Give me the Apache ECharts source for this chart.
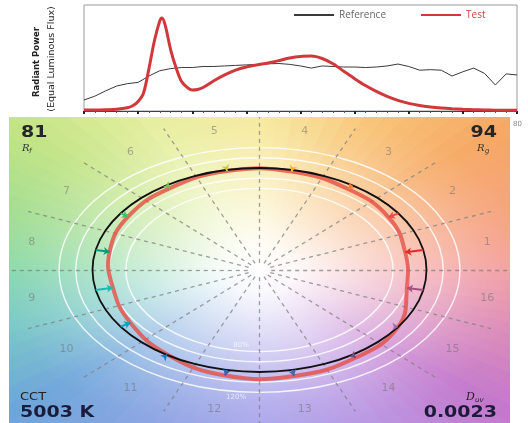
<!DOCTYPE html>
<html><head><meta charset="utf-8">
<script src="https://cdn.jsdelivr.net/npm/echarts@6/dist/echarts.min.js"></script>
<style>html,body{margin:0;padding:0;background:#fff}#c{width:528px;height:423px}</style>
</head><body><div id="c"></div>
<script>
// ---------- Spectrum data ----------
const testWavelengths = [380,390,400,410,420,425,430,435,440,445,450,452,455,460,465,470,475,480,485,490,500,510,520,530,540,550,560,570,580,590,600,610,620,630,640,650,660,670,680,690,700,710,720,730,740,750,760,770,780];
const testPower = [0.01,0.01,0.012,0.016,0.03,0.05,0.09,0.17,0.40,0.66,0.85,0.877,0.81,0.58,0.41,0.28,0.225,0.198,0.203,0.222,0.285,0.34,0.385,0.415,0.435,0.453,0.475,0.5,0.515,0.518,0.495,0.445,0.375,0.305,0.24,0.185,0.138,0.10,0.072,0.052,0.038,0.028,0.021,0.016,0.012,0.01,0.008,0.007,0.006];
const refWavelengths = [380,390,400,410,420,430,440,450,460,470,480,490,500,510,520,530,540,550,560,570,580,590,600,610,620,630,640,650,660,670,680,690,700,710,720,730,740,750,760,770,780];
const refPower = [0.104,0.14,0.19,0.235,0.258,0.27,0.33,0.38,0.40,0.41,0.41,0.42,0.42,0.425,0.43,0.435,0.44,0.445,0.448,0.44,0.425,0.405,0.425,0.42,0.415,0.415,0.41,0.415,0.425,0.443,0.42,0.385,0.39,0.385,0.33,0.37,0.405,0.355,0.245,0.35,0.34];
const seriesNames = ['Reference', 'Test'];

// ---------- Colour vector graphic data ----------
const binNumbers = [1,2,3,4,5,6,7,8,9,10,11,12,13,14,15,16];
const binHueDeg = [11.25,33.75,56.25,78.75,101.25,123.75,146.25,168.75,191.25,213.75,236.25,258.75,281.25,303.75,326.25,348.75];
const testChromaRatio = [0.89,0.93,0.955,0.985,0.99,0.965,0.945,0.915,0.895,0.93,0.995,1.055,1.06,1.035,1.0,0.9];
const binArrowColors = ['#e62828','#e74b4b','#fb812e','#ffb529','#cbca46','#7eb94c','#41c06d','#009c7c','#16bcb0','#00a4bf','#0085c3','#3b62aa','#4568ae','#6a4e85','#9d69a1','#a74f81'];
const bgHueColors = ['#f39a9c','#f5a07a','#f6a864','#f8c272','#f6e896','#e4ee9a','#c2e486','#a0dc8e','#82d6a6','#74c6c4','#6ea6da','#88a2e2','#a6a2ea','#b894e2','#c478cc','#dc88b4'];
const ringRadii = [0.8, 0.9, 1.1, 1.2];
const referenceRadius = [1.0];
const ringLabelText = ['80%', '120%'];
const ringLabelPos = [[-0.11, -0.74], [-0.14, -1.25]];
const Rf = '81', Rg = '94', CCT = '5003 K', Duv = '0.0023';

const deg = Math.PI / 180;
const testPts = binHueDeg.map((h, i) => [testChromaRatio[i] * Math.cos(h * deg), testChromaRatio[i] * Math.sin(h * deg)]);
const refPts = binHueDeg.map(h => [Math.cos(h * deg), Math.sin(h * deg)]);

function hexRgb(h) { return [parseInt(h.slice(1, 3), 16), parseInt(h.slice(3, 5), 16), parseInt(h.slice(5, 7), 16)]; }
function mixColor(a, b, t) {
  const A = hexRgb(a), B = hexRgb(b);
  return 'rgb(' + A.map((v, k) => Math.round(v + (B[k] - v) * t)).join(',') + ')';
}

const chart = echarts.init(document.getElementById('c'));

const lbl = (text, x, y, font, fill, align, extra) => Object.assign({
  type: 'text', x: x, y: y, z: 100,
  style: {text: text, font: font, fill: fill, align: align, verticalAlign: 'middle', textAlign: align, textVerticalAlign: 'middle'}
}, extra || {});

const option = {
  animation: false,
  backgroundColor: '#ffffff',
  grid: [
    {left: 84, top: 5, width: 433, height: 106, show: true, borderColor: '#9a9a9a', borderWidth: 1, backgroundColor: '#fff'},
    {left: 9, top: 117, width: 501, height: 306, show: false}
  ],
  legend: {
    left: 288, top: 5, itemWidth: 40, itemHeight: 8, itemGap: 34,
    itemStyle: {opacity: 0},
    data: [
      {name: 'Reference', textStyle: {color: '#666'}},
      {name: 'Test', textStyle: {color: '#d04040'}}
    ],
    textStyle: {fontSize: 10, fontFamily: 'Open Sans'}
  },
  xAxis: [
    {gridIndex: 0, type: 'value', min: 380, max: 780, interval: 50,
     axisLabel: {show: false}, splitLine: {show: false},
     axisLine: {lineStyle: {color: '#3a4050', width: 1}},
     axisTick: {show: true, length: 3, lineStyle: {color: '#222', width: 2}},
     minorTick: {show: true, splitNumber: 5, length: 2, lineStyle: {color: '#555', width: 1}}},
    {gridIndex: 1, type: 'value', min: -1.5, max: 1.5, show: false}
  ],
  yAxis: [
    {gridIndex: 0, type: 'value', min: 0, max: 1, show: false},
    {gridIndex: 1, type: 'value', min: -1.5, max: 1.5, show: false}
  ],
  series: [
    {type: 'line', name: seriesNames[0], xAxisIndex: 0, yAxisIndex: 0, symbol: 'none', z: 3,
     data: refWavelengths.map((w, i) => [w, refPower[i]]),
     lineStyle: {color: '#3a3a3a', width: 1}, itemStyle: {color: '#3a3a3a'}},
    {type: 'line', name: seriesNames[1], xAxisIndex: 0, yAxisIndex: 0, symbol: 'none', smooth: 0.3, z: 4,
     data: testWavelengths.map((w, i) => [w, testPower[i]]),
     lineStyle: {color: '#d0383c', width: 3}, itemStyle: {color: '#d0383c'}},
    // background hue wedges (each anchor sector split into soft sub-wedges)
    {type: 'custom', xAxisIndex: 1, yAxisIndex: 1, clip: true, silent: true, z: 0,
     data: bgHueColors.map((c, i) => [i]),
     renderItem: function (params, api) {
       const n = bgHueColors.length, i = params.dataIndex, step = 360 / n, R = 2.4, sub = 6;
       const c0 = bgHueColors[i], c1 = bgHueColors[(i + 1) % n];
       const c = api.coord([0, 0]);
       const children = [];
       for (let s = 0; s < sub; s++) {
         const a1 = (i * step + s * step / sub) * deg, a2 = (i * step + (s + 1) * step / sub) * deg;
         const p1 = api.coord([R * Math.cos(a1), R * Math.sin(a1)]);
         const p2 = api.coord([R * Math.cos(a2), R * Math.sin(a2)]);
         const g = new echarts.graphic.LinearGradient(p1[0], p1[1], p2[0], p2[1],
           [{offset: 0, color: mixColor(c0, c1, s / sub)}, {offset: 1, color: mixColor(c0, c1, (s + 1) / sub)}], true);
         children.push({type: 'polygon', shape: {points: [c, p1, p2]}, style: {fill: g, stroke: g, lineWidth: 1}});
       }
       return {type: 'group', children: children};
     }},
    // white glow at centre
    {type: 'custom', xAxisIndex: 1, yAxisIndex: 1, clip: true, silent: true, z: 1,
     data: [[0, 0]],
     renderItem: function (params, api) {
       const c = api.coord([0, 0]);
       const sx = api.size([1, 0])[0], sy = api.size([0, 1])[1];
       return {type: 'circle', x: c[0], y: c[1], scaleY: sy / sx, shape: {cx: 0, cy: 0, r: 1.9 * sx},
         style: {fill: new echarts.graphic.RadialGradient(0.5, 0.5, 0.5, [
           {offset: 0, color: 'rgba(255,255,255,1)'},
           {offset: 0.12, color: 'rgba(255,255,255,0.93)'},
           {offset: 0.3, color: 'rgba(255,255,255,0.68)'},
           {offset: 0.5, color: 'rgba(255,255,255,0.4)'},
           {offset: 0.7, color: 'rgba(255,255,255,0.16)'},
           {offset: 0.85, color: 'rgba(255,255,255,0.04)'},
           {offset: 1, color: 'rgba(255,255,255,0)'}])}};
     }},
    // white rings
    {type: 'custom', xAxisIndex: 1, yAxisIndex: 1, clip: true, silent: true, z: 2,
     data: ringRadii.map(r => [r]),
     renderItem: function (params, api) {
       const r = api.value(0), c = api.coord([0, 0]);
       return {type: 'ellipse', shape: {cx: c[0], cy: c[1], rx: api.size([r, 0])[0], ry: api.size([0, r])[1]},
         style: {fill: null, stroke: 'rgba(255,255,255,0.85)', lineWidth: 1.4}};
     }},
    // dashed bin boundaries
    {type: 'lines', coordinateSystem: 'cartesian2d', xAxisIndex: 1, yAxisIndex: 1, z: 3, silent: true,
     data: binNumbers.map((b, i) => ({coords: [[0.07 * Math.cos(i * 22.5 * deg), 0.07 * Math.sin(i * 22.5 * deg)], [1.5 * Math.cos(i * 22.5 * deg), 1.5 * Math.sin(i * 22.5 * deg)]]})),
     lineStyle: {color: '#808080', width: 1.3, type: [4, 4], opacity: 0.75}},
    // test curve
    {type: 'custom', xAxisIndex: 1, yAxisIndex: 1, clip: true, silent: true, z: 5,
     data: testPts,
     renderItem: function (params, api) {
       if (params.dataIndex !== 0) return null;
       const pts = testPts.map(p => api.coord(p));
       return {type: 'polygon', shape: {points: pts, smooth: 0.45},
         style: {fill: null, stroke: 'rgba(228,80,72,0.82)', lineWidth: 4}};
     }},
    // reference circle
    {type: 'custom', xAxisIndex: 1, yAxisIndex: 1, clip: true, silent: true, z: 6,
     data: referenceRadius.map(r => [r]),
     renderItem: function (params, api) {
       const r = api.value(0), c = api.coord([0, 0]);
       return {type: 'ellipse', shape: {cx: c[0], cy: c[1], rx: api.size([r, 0])[0], ry: api.size([0, r])[1]},
         style: {fill: null, stroke: '#111', lineWidth: 1.8}};
     }},
    // arrows
    {type: 'lines', coordinateSystem: 'cartesian2d', xAxisIndex: 1, yAxisIndex: 1, z: 7, silent: true,
     symbol: ['none', 'arrow'], symbolSize: 6,
     data: binNumbers.map((b, i) => ({coords: [refPts[i], testPts[i]], lineStyle: {color: binArrowColors[i], width: 2, opacity: 1}}))},
    // bin labels
    {type: 'scatter', xAxisIndex: 1, yAxisIndex: 1, symbolSize: 0, z: 8, silent: true,
     data: binNumbers.map((b, i) => [1.39 * Math.cos(binHueDeg[i] * deg), 1.39 * Math.sin(binHueDeg[i] * deg), b]),
     label: {show: true, position: 'inside', formatter: p => String(p.value[2]), color: 'rgba(110,110,110,0.65)', fontSize: 11, fontFamily: 'DejaVu Sans'}},
    // ring labels
    {type: 'scatter', xAxisIndex: 1, yAxisIndex: 1, symbolSize: 0, z: 8, silent: true,
     data: ringLabelPos.map((p, i) => [p[0], p[1], ringLabelText[i]]),
     label: {show: true, position: 'inside', formatter: p => p.value[2], color: 'rgba(255,255,255,0.9)', fontSize: 7, fontFamily: 'DejaVu Sans'}}
  ],
  graphic: [
    lbl('Radiant Power', 37, 62, 'bold 8.5px "DejaVu Sans"', '#222', 'center', {rotation: Math.PI / 2}),
    lbl('(Equal Luminous Flux)', 52, 59, '9.5px "DejaVu Sans"', '#222', 'center', {rotation: Math.PI / 2}),
    lbl(Rf, 21, 133, 'bold 19px "DejaVu Sans"', '#262626', 'left', {scaleY: 0.8}),
    lbl('R', 22, 148, 'italic 10px "DejaVu Serif"', '#333', 'left'),
    lbl('f', 29, 151, 'italic 7px "DejaVu Sans"', '#333', 'left'),
    lbl(Rg, 497, 133, 'bold 19px "DejaVu Sans"', '#262626', 'right', {scaleY: 0.8}),
    lbl('R', 477, 148, 'italic 10px "DejaVu Serif"', '#333', 'left'),
    lbl('g', 485, 151, 'italic 7px "DejaVu Sans"', '#333', 'left'),
    lbl('CCT', 20, 397, '13px "DejaVu Sans"', '#222', 'left', {scaleY: 0.75}),
    lbl(CCT, 20, 413, 'bold 19px "DejaVu Sans"', '#1c1c3a', 'left', {scaleY: 0.8}),
    lbl('D', 466, 397, 'italic 11px "DejaVu Serif"', '#222', 'left'),
    lbl('uv', 475, 400, 'italic 7px "DejaVu Sans"', '#222', 'left'),
    lbl(Duv, 497, 413, 'bold 19px "DejaVu Sans"', '#1c1c3a', 'right', {scaleY: 0.8}),
    lbl('80', 513, 124, '7px "DejaVu Sans"', '#888', 'left')
  ]
};
chart.setOption(option);
</script>
</body></html>
